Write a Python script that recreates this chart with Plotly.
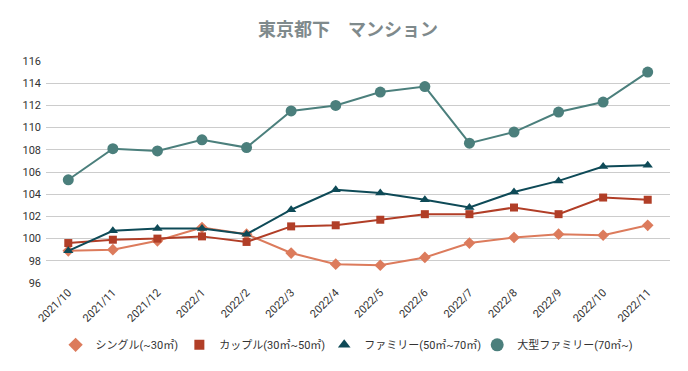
import plotly.graph_objects as go

months = ["2021/10", "2021/11", "2021/12", "2022/1", "2022/2", "2022/3", "2022/4",
          "2022/5", "2022/6", "2022/7", "2022/8", "2022/9", "2022/10", "2022/11"]
single = [98.9, 99.0, 99.8, 101.0, 100.4, 98.7, 97.7, 97.6, 98.3, 99.6, 100.1, 100.4, 100.3, 101.2]
couple = [99.6, 99.9, 100.0, 100.2, 99.7, 101.1, 101.2, 101.7, 102.2, 102.2, 102.8, 102.2, 103.7, 103.5]
family = [98.9, 100.7, 100.9, 100.9, 100.4, 102.6, 104.4, 104.1, 103.5, 102.8, 104.2, 105.2, 106.5, 106.6]
large_family = [105.3, 108.1, 107.9, 108.9, 108.2, 111.5, 112.0, 113.2, 113.7, 108.6, 109.6, 111.4, 112.3, 115.0]
names = ["シングル(~30㎡)", "カップル(30㎡~50㎡)", "ファミリー(50㎡~70㎡)", "大型ファミリー(70㎡~)"]
y_ticks = [96, 98, 100, 102, 104, 106, 108, 110, 112, 114, 116]

series = [single, couple, family, large_family]
colors = ["#DC7B5C", "#B13E27", "#0E4A57", "#4B7F7C"]
symbols = ["diamond", "square", "triangle-up", "circle"]
sizes = [9, 8, 9, 11]
legend_ids = ["legend", "legend2", "legend3", "legend4"]
legend_x = [0.070, 0.252, 0.465, 0.690]

W, H = 680, 363
FONT = "Roboto, Noto Sans CJK JP, sans-serif"
fig = go.Figure()
for s, n, c, sym, sz in zip(series, names, colors, symbols, sizes):
    fig.add_trace(go.Scatter(x=months, y=s, mode="lines+markers", name=n,
                             line=dict(color=c, width=2),
                             marker=dict(symbol=sym, size=sz, color=c),
                             showlegend=False))
for n, c, sym, sz, lg in zip(names, colors, symbols, sizes, legend_ids):
    fig.add_trace(go.Scatter(x=[None], y=[None], mode="markers", name=n, legend=lg,
                             marker=dict(symbol=sym, size=sz + 2, color=c)))

legend_common = dict(orientation="h", xref="container", yref="container", xanchor="left",
                     y=0.072, yanchor="middle", bgcolor="rgba(0,0,0,0)",
                     font=dict(size=11, color="#333333"), itemwidth=30)

fig.update_layout(
    width=W, height=H,
    margin=dict(l=38, r=18, t=53, b=88, autoexpand=False),
    paper_bgcolor="white", plot_bgcolor="white",
    font=dict(family=FONT, size=11, color="#333333"),
    title=dict(text="<b>東京都下　マンション</b>", x=0.5, xanchor="center", y=1 - 22 / H, yanchor="middle",
               font=dict(size=18, color="#7F8A8C", family="Noto Sans CJK JP, sans-serif")),
    xaxis=dict(type="category", range=[-0.5, len(months) - 0.5], tickangle=-45,
               showgrid=False, showline=False, ticks="", automargin=False,
               tickfont=dict(size=11, color="#333333")),
    yaxis=dict(range=[96, 116], tickvals=y_ticks, showgrid=True, gridcolor="#CCCCCC",
               gridwidth=1, zeroline=False, showline=False, ticks="", automargin=False,
               ticklabelstandoff=4, tickfont=dict(size=11, color="#333333")),
    showlegend=True,
)
for lg, lx in zip(legend_ids, legend_x):
    fig.update_layout({lg: dict(legend_common, x=lx)})
fig.write_html("out.html")
